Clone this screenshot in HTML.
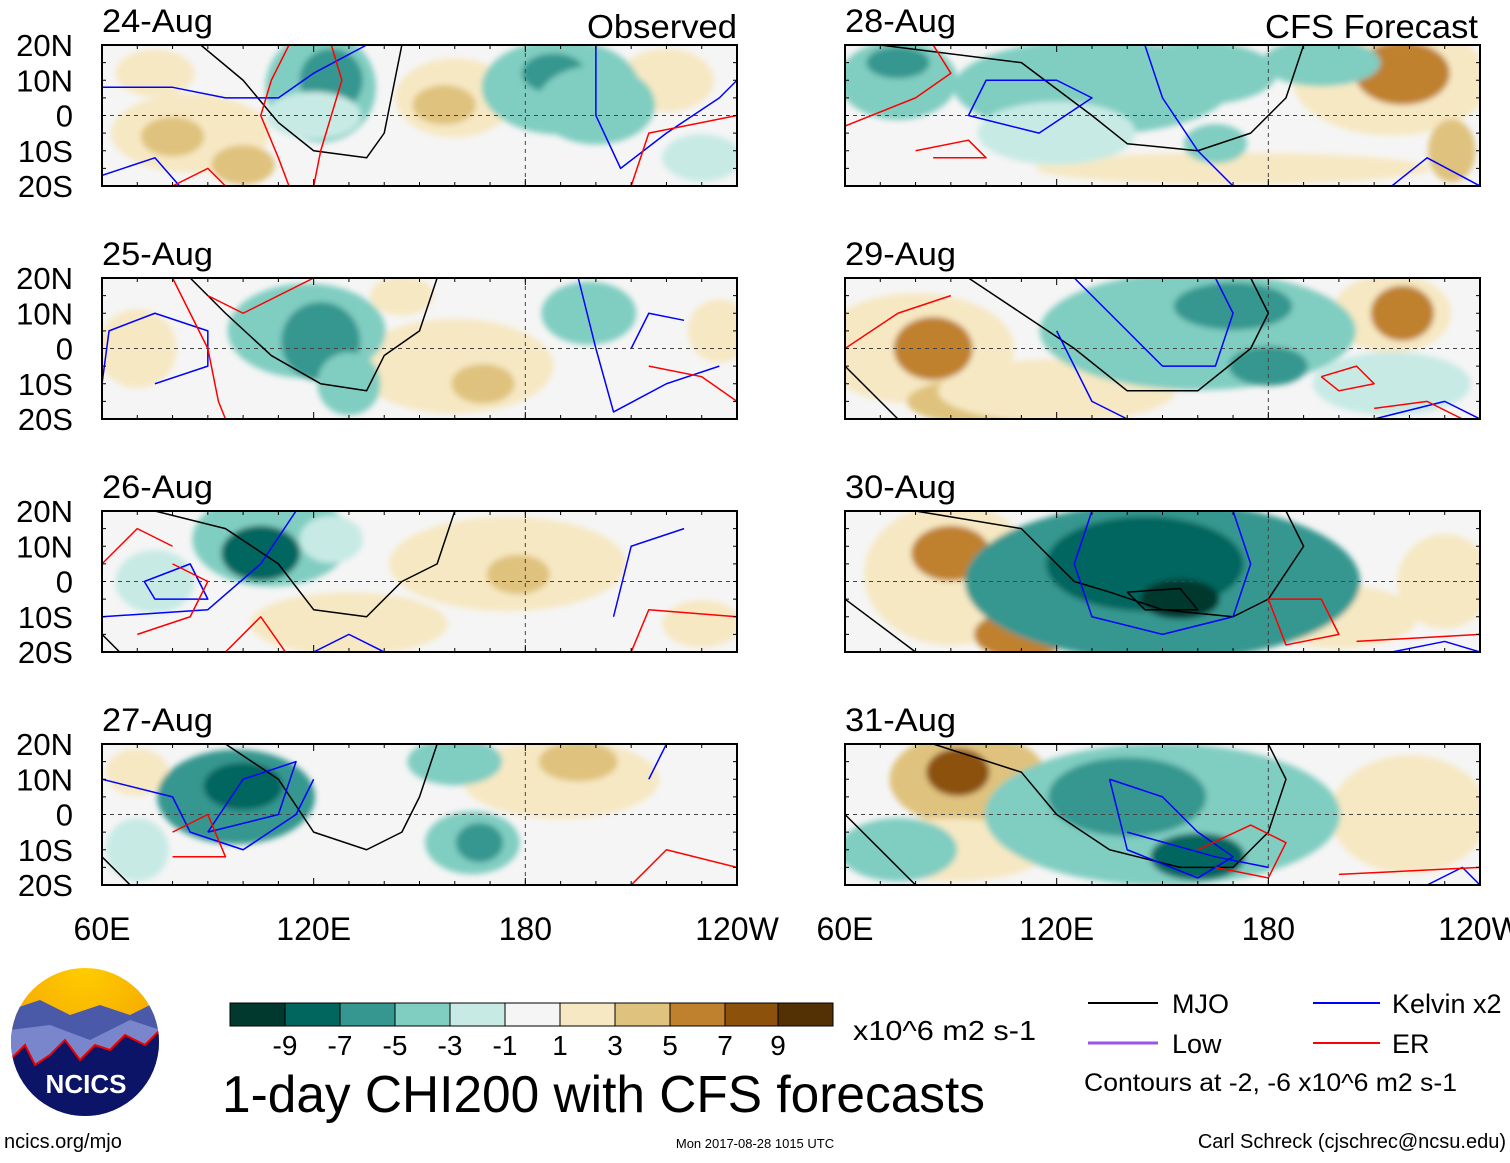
<!DOCTYPE html>
<html><head><meta charset="utf-8"><style>
body{margin:0;background:#fff;width:1510px;height:1158px;overflow:hidden;font-family:"Liberation Sans",sans-serif}
svg text{font-family:"Liberation Sans",sans-serif}
</style></head><body>
<svg id="root" width="1510" height="1158" xmlns="http://www.w3.org/2000/svg">
<defs><filter id="bl" x="-10%" y="-10%" width="120%" height="120%"><feGaussianBlur stdDeviation="3"/></filter>
<radialGradient id="sun" cx="50%" cy="0%" r="60%"><stop offset="0" stop-color="#ffcc00"/><stop offset="1" stop-color="#f5a800"/></radialGradient></defs>
</svg>
<script>
const levels=[-9,-7,-5,-3,-1,1,3,5,7,9];
const colors=['#01392f','#01665e','#35978f','#80cdc1','#c7eae5','#f5f5f5','#f6e8c3','#dfc27d','#bf812d','#8c510a','#543005'];
const dates=['24-Aug','25-Aug','26-Aug','27-Aug','28-Aug','29-Aug','30-Aug','31-Aug'];
const latTicks=['20N','10N','0','10S','20S'];
const lonTicks=['60E','120E','180','120W'];
// blobs: [lon, lat, rLon, rLat, value]
const blobs=[
[[85,-5,20,10,2],[80,-6,8,5,4],[100,-14,8,5,4],[160,5,15,10,2],[157,3,8,5,4],[220,10,12,8,2],[75,12,10,6,2],[122,8,14,14,-4],[125,10,8,8,-6],[120,0,12,6,-2],[190,8,20,12,-4],[188,12,8,5,-6],[200,3,15,10,-3],[230,-12,10,6,-2]],
[[160,-5,25,12,2],[168,-10,8,5,5],[70,0,10,10,2],[235,5,8,8,2],[145,15,8,5,2],[118,5,20,12,-3],[122,2,10,10,-5],[198,10,12,8,-3],[130,-10,8,8,-3]],
[[175,5,30,12,2],[178,2,8,5,4],[130,-12,25,8,2],[230,-12,10,6,2],[108,12,20,12,-4],[105,8,10,7,-7],[75,0,10,8,-2],[125,12,8,6,-2]],
[[190,10,25,10,2],[195,15,10,5,4],[70,12,8,6,2],[98,5,20,12,-5],[100,8,10,6,-8],[165,-8,12,8,-3],[167,-8,6,5,-5],[160,15,12,6,-3],[70,-10,8,8,-2]],
[[215,10,25,14,3],[218,12,12,8,6],[170,-15,50,4,2],[232,-10,6,8,4],[75,10,15,10,-4],[75,15,8,4,-6],[130,8,35,12,-3],[160,12,20,8,-3],[195,15,15,6,-4],[165,-8,8,5,-4],[120,-5,20,8,-2]],
[[80,0,25,14,3],[85,0,10,8,6],[100,-15,20,6,5],[215,10,15,10,3],[218,10,8,7,6],[120,-12,30,8,2],[160,5,40,15,-3],[170,12,15,6,-5],[180,-5,10,5,-5],[215,-10,20,8,-2]],
[[90,2,22,18,3],[90,8,10,7,7],[110,-15,12,6,6],[230,0,12,12,3],[200,-10,20,8,2],[150,0,50,20,-5],[145,5,25,12,-8],[155,-5,10,5,-10]],
[[95,10,20,12,4],[92,12,8,6,8],[90,-10,25,8,3],[220,0,20,15,2],[150,0,45,18,-4],[140,5,20,10,-6],[160,-12,12,6,-8],[75,-10,15,8,-4]]
];
// contour polylines [lon,lat]
const mjo=[
[[[88,20],[100,10],[110,-2],[120,-10],[135,-12],[140,-5],[142,5],[145,20]]],
[[[85,20],[95,10],[108,-2],[122,-10],[135,-12],[140,-2],[150,5],[155,20]]],
[[[75,20],[95,15],[110,5],[120,-8],[135,-10],[145,0],[155,5],[160,20]],[[60,-15],[65,-20]]],
[[[95,20],[110,10],[120,-5],[135,-10],[145,-5],[150,5],[155,20]],[[60,-12],[68,-20]]],
[[[70,20],[110,15],[130,0],[140,-8],[160,-10],[175,-5],[185,5],[190,20]]],
[[[95,20],[110,10],[125,0],[140,-12],[160,-12],[175,0],[180,10],[175,20]],[[60,-5],[75,-20]]],
[[[80,20],[110,15],[125,0],[135,-3],[150,-8],[170,-10],[180,-5],[190,10],[185,20]],[[60,-5],[80,-20]],[[140,-3],[155,-2],[160,-8],[145,-8],[140,-3]]],
[[[85,20],[110,12],[120,0],[135,-10],[155,-15],[170,-15],[180,-5],[185,10],[180,20]],[[60,0],[80,-20]]]
];
const kelvin=[
[[[60,8],[80,8],[95,5],[110,5],[120,12],[135,20]],[[200,20],[200,0],[207,-15],[220,-5],[235,5],[240,10]],[[60,-17],[75,-12],[82,-20]]],
[[[60,-10],[62,5],[75,10],[90,5],[90,-5],[75,-10]],[[195,20],[200,0],[205,-18],[220,-10],[235,-5]],[[210,0],[215,10],[225,8]]],
[[[72,0],[85,5],[90,-5],[75,-5],[72,0]],[[60,-10],[90,-8],[105,5],[115,20]],[[120,-20],[130,-15],[140,-20]],[[205,-10],[210,10],[225,15]]],
[[[90,-5],[110,0],[115,15],[100,10],[90,-5]],[[60,10],[80,5],[85,-5],[100,-10],[115,0],[120,10]],[[215,10],[220,20]]],
[[[95,0],[100,10],[120,10],[130,5],[115,-5],[95,0]],[[145,20],[150,5],[160,-10],[170,-20]],[[215,-20],[225,-12],[240,-20]]],
[[[125,20],[140,5],[150,-5],[165,-5],[170,10],[165,20]],[[120,5],[130,-15],[140,-20]],[[210,-20],[230,-15],[240,-20]]],
[[[130,20],[125,5],[130,-10],[150,-15],[170,-10],[175,5],[170,20]],[[215,-20],[230,-17],[240,-20]]],
[[[135,10],[150,5],[160,-5],[170,-12],[160,-18],[140,-10],[135,10]],[[140,-5],[165,-12],[180,-15]],[[225,-20],[235,-15],[240,-20]]]
];
const er=[
[[[113,20],[108,10],[105,0],[110,-12],[113,-20]],[[125,20],[128,10],[122,-10],[120,-20]],[[80,-20],[90,-15],[95,-20]],[[210,-20],[215,-5],[240,0]]],
[[[90,15],[100,10],[120,20]],[[80,20],[85,10],[90,0],[93,-15],[95,-20]],[[215,-5],[230,-8],[240,-15]]],
[[[60,5],[70,15],[80,10]],[[70,-15],[85,-10],[90,0],[80,5]],[[95,-20],[105,-10],[112,-20]],[[210,-20],[215,-8],[240,-10]]],
[[[80,-5],[90,0],[95,-12],[80,-12]],[[210,-20],[220,-10],[240,-15]]],
[[[60,-3],[80,5],[90,12],[85,20]],[[80,-10],[95,-7],[100,-12],[85,-12]]],
[[[60,0],[75,10],[90,15]],[[195,-8],[205,-5],[210,-10],[200,-12],[195,-8]],[[210,-17],[225,-15],[235,-20]]],
[[[180,-5],[195,-5],[200,-15],[185,-18],[180,-5]],[[205,-17],[240,-15]]],
[[[160,-10],[175,-3],[185,-8],[180,-18],[165,-15]],[[200,-17],[240,-15]]]
];
const svg=document.getElementById('root');
const NS='http://www.w3.org/2000/svg';
function mk(tag,attrs,parent){const e=document.createElementNS(NS,tag);for(const k in attrs)e.setAttribute(k,attrs[k]);(parent||svg).appendChild(e);return e;}
function color(v){let i=0;while(i<levels.length&&v>levels[i])i++;return colors[i];}
const PW=635,PH=141;
const px=[102,845],py=[45,278,511,744];
dates.forEach((d,p)=>{
  const x0=px[p<4?0:1],y0=py[p%4];
  const X=lon=>x0+(lon-60)/180*PW, Y=lat=>y0+(20-lat)/40*PH;
  const g=mk('g',{});
  
  
  const cp=mk('clipPath',{id:'c'+p},g);mk('rect',{x:x0,y:y0,width:PW,height:PH},cp);
  const cg=mk('g',{'clip-path':'url(#c'+p+')'},g);
  mk('rect',{x:x0,y:y0,width:PW,height:PH,fill:colors[5]},cg);
  const fg=mk('g',{filter:'url(#bl)'},cg);
  blobs[p].forEach(b=>{
    const e=mk('ellipse',{cx:X(b[0]),cy:Y(b[1]),rx:b[2]*1.12/180*PW,ry:b[3]*1.12/40*PH,fill:color(b[4])},fg);
    
    
  });
  mk('line',{x1:x0,x2:x0+PW,y1:Y(0),y2:Y(0),stroke:'#444','stroke-dasharray':'4,4','stroke-width':1},cg);
  mk('line',{x1:X(180),x2:X(180),y1:y0,y2:y0+PH,stroke:'#444','stroke-dasharray':'4,4','stroke-width':1},cg);
  [[mjo,'#000','mjo-contour'],[kelvin,'#0000ff','kelvin-contour'],[er,'#ff0000','er-contour']].forEach(([arr,c,n])=>{
    arr[p].forEach(l=>{
      const e=mk('polyline',{points:l.map(q=>X(q[0])+','+Y(q[1])).join(' '),fill:'none',stroke:c,'stroke-width':1.5,'stroke-linejoin':'round'},cg);
      
      
    });
  });
  mk('rect',{x:x0,y:y0,width:PW,height:PH,fill:'none',stroke:'#000','stroke-width':2},g);
  for(let lon=60;lon<=240;lon+=10){mk('line',{x1:X(lon),x2:X(lon),y1:y0,y2:y0+(lon%60?4:7),stroke:'#000'},g);mk('line',{x1:X(lon),x2:X(lon),y1:y0+PH,y2:y0+PH-(lon%60?4:7),stroke:'#000'},g);}
  for(let lat=-20;lat<=20;lat+=5){mk('line',{x1:x0,x2:x0+4,y1:Y(lat),y2:Y(lat),stroke:'#000'},g);mk('line',{x1:x0+PW,x2:x0+PW-4,y1:Y(lat),y2:Y(lat),stroke:'#000'},g);}
  const t=mk('text',{x:x0,y:y0-13,'font-size':32,textLength:111,lengthAdjust:'spacingAndGlyphs'},g);t.textContent=d;
  
  
  if(p<4){latTicks.forEach((s,i)=>{const tt=mk('text',{x:73,y:y0+i*PH/4+11,'font-size':31,'text-anchor':'end'},g);tt.textContent=s;
    
    });}
  if(p%4==3){lonTicks.forEach((s,i)=>{const tt=mk('text',{x:x0+i*PW/3,y:940,'font-size':32,'text-anchor':'middle'},g);tt.textContent=s;
    
    });}
});
</script>
<svg width="1510" height="1158" style="position:absolute;left:0;top:0" xmlns="http://www.w3.org/2000/svg">
<text x="587" y="38" font-size="33" textLength="150" lengthAdjust="spacingAndGlyphs">Observed</text>
<text x="1265" y="38" font-size="33" textLength="213" lengthAdjust="spacingAndGlyphs">CFS Forecast</text>
<g>
<rect x="230" y="1003" width="55" height="23" fill="#01392f"/><rect x="285" y="1003" width="55" height="23" fill="#01665e"/><rect x="340" y="1003" width="55" height="23" fill="#35978f"/><rect x="395" y="1003" width="55" height="23" fill="#80cdc1"/><rect x="450" y="1003" width="55" height="23" fill="#c7eae5"/><rect x="505" y="1003" width="55" height="23" fill="#f5f5f5"/><rect x="560" y="1003" width="55" height="23" fill="#f6e8c3"/><rect x="615" y="1003" width="55" height="23" fill="#dfc27d"/><rect x="670" y="1003" width="55" height="23" fill="#bf812d"/><rect x="725" y="1003" width="53" height="23" fill="#8c510a"/><rect x="778" y="1003" width="55" height="23" fill="#543005"/>
<g stroke="#000" fill="none"><rect x="230" y="1003" width="603" height="23"/><path d="M285 1003v23M340 1003v23M395 1003v23M450 1003v23M505 1003v23M560 1003v23M615 1003v23M670 1003v23M725 1003v23M778 1003v23"/></g>
<g font-size="28" text-anchor="middle"><text x="285" y="1055">-9</text><text x="340" y="1055">-7</text><text x="395" y="1055">-5</text><text x="450" y="1055">-3</text><text x="505" y="1055">-1</text><text x="560" y="1055">1</text><text x="615" y="1055">3</text><text x="670" y="1055">5</text><text x="725" y="1055">7</text><text x="778" y="1055">9</text></g>
</g>
<text x="853" y="1040" font-size="28" textLength="183" lengthAdjust="spacingAndGlyphs">x10^6 m2 s-1</text>
<text x="222" y="1112" font-size="52" textLength="763" lengthAdjust="spacingAndGlyphs">1-day CHI200 with CFS forecasts</text>
<g font-size="27">
<line x1="1088" x2="1158" y1="1003" y2="1003" stroke="#000" stroke-width="2"/><text x="1172" y="1013">MJO</text>
<line x1="1313" x2="1380" y1="1003" y2="1003" stroke="#0000ff" stroke-width="2"/><text x="1392" y="1013">Kelvin x2</text>
<line x1="1088" x2="1158" y1="1043" y2="1043" stroke="#9955ee" stroke-width="3"/><text x="1172" y="1053">Low</text>
<line x1="1313" x2="1380" y1="1043" y2="1043" stroke="#ff0000" stroke-width="2"/><text x="1392" y="1053">ER</text>
<text x="1084" y="1091" font-size="25" textLength="373" lengthAdjust="spacingAndGlyphs">Contours at -2, -6 x10^6 m2 s-1</text>
</g>
<g>
<clipPath id="lc"><ellipse cx="85" cy="1042" rx="74" ry="74"/></clipPath>
<g clip-path="url(#lc)">
<rect x="10" y="968" width="150" height="150" fill="url(#sun)"/>
<path d="M10 1010 L40 1000 L70 1015 L100 1005 L130 1015 L160 1000 V1118 H10Z" fill="#4a5aa8"/>
<path d="M10 1030 L50 1025 L90 1040 L130 1020 L160 1030 V1118 H10Z" fill="#7a86cc"/>
<path d="M10 1060 L25 1045 L35 1065 L50 1055 L65 1040 L80 1060 L95 1045 L110 1050 L125 1035 L145 1045 L160 1030 V1118 H10Z" fill="#0b1466" stroke="#e00" stroke-width="2"/>
</g>
<text x="86" y="1093" font-size="26" font-weight="bold" fill="#fff" text-anchor="middle">NCICS</text>
</g>
<text x="4" y="1148" font-size="20">ncics.org/mjo</text>
<text x="755" y="1148" font-size="13" text-anchor="middle">Mon 2017-08-28 1015 UTC</text>
<text x="1506" y="1148" font-size="20" text-anchor="end">Carl Schreck (cjschrec@ncsu.edu)</text>
</svg>
</body></html>
